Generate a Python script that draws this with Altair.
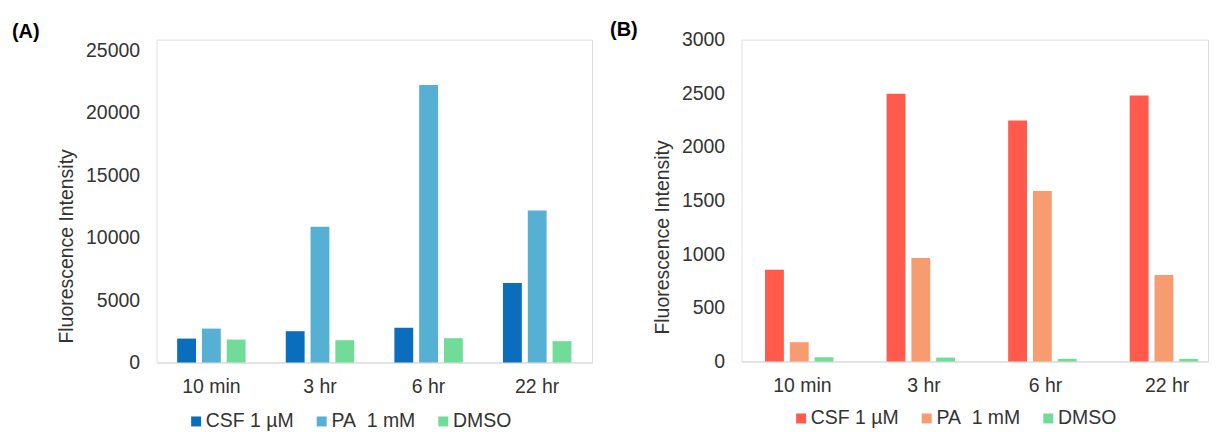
import altair as alt
import pandas as pd

times = ["10 min", "3 hr", "6 hr", "22 hr"]
series = ["CSF 1 µM", "PA\u00a0\u00a01 mM", "DMSO"]

a_csf = [1920, 2510, 2780, 6380]
a_pa = [2720, 10890, 22250, 12190]
a_dmso = [1840, 1790, 1950, 1710]

b_csf = [855, 2495, 2247, 2479]
b_pa = [180, 964, 1590, 806]
b_dmso = [40, 37, 25, 25]

colors_a = ["#0A6EBD", "#56B0D3", "#70DC98"]
colors_b = ["#FF5A4B", "#F79C70", "#70DC98"]

FONT = "Liberation Sans"
TXT = "#333333"


def long(csf, pa, dmso):
    rows = []
    for i, t in enumerate(times):
        for s, vals in zip(series, [csf, pa, dmso]):
            rows.append({"time": t, "treatment": s, "value": vals[i]})
    return pd.DataFrame(rows)


def panel(df, colors, title, title_dx, title_offset, width, height, ymax, ytop, ystep,
          pin, pout, palign, title_y, leg_x, leg_y):
    return alt.Chart(df, title=alt.TitleParams(
        text=title, anchor="start", frame="group", dx=title_dx, offset=title_offset,
        fontSize=20, fontWeight="bold", color="black", font=FONT)
    ).mark_bar().encode(
        x=alt.X("time:N", sort=times, title=None,
                scale=alt.Scale(paddingInner=pin, paddingOuter=pout, align=palign),
                axis=alt.Axis(labelAngle=0, ticks=False, labelPadding=15,
                              domainColor="#d9d9d9", labelFontSize=19.5,
                              labelColor=TXT, labelFont=FONT, grid=False)),
        xOffset=alt.XOffset("treatment:N", sort=series,
                            scale=alt.Scale(paddingInner=0.24, paddingOuter=0)),
        y=alt.Y("value:Q", title="Fluorescence Intensity",
                scale=alt.Scale(domain=[0, ytop], nice=False),
                axis=alt.Axis(values=list(range(0, ymax + 1, ystep)), format="d",
                              ticks=False, grid=False, domainColor="#f2f2f2",
                              labelPadding=17, labelFontSize=19.5, labelColor=TXT,
                              labelFont=FONT, titleFontSize=19.5, titleColor=TXT,
                              titleFont=FONT, titleFontWeight="normal", titlePadding=9,
                              titleY=title_y)),
        color=alt.Color("treatment:N", sort=series,
                        scale=alt.Scale(domain=series, range=colors),
                        legend=alt.Legend(title=None, orient="none", direction="horizontal",
                                          legendX=leg_x, legendY=leg_y,
                                          symbolType="square", symbolSize=100,
                                          symbolStrokeWidth=0, labelFontSize=19.5,
                                          labelColor=TXT, labelFont=FONT,
                                          labelOffset=0, columnPadding=18)),
    ).properties(width=width, height=height)


left = panel(long(a_csf, a_pa, a_dmso), colors_a, "(A)", -145, -2, 437, 324,
             25000, 25880, 5000, 0.37, 0.19, 0.5, 207, 30, 373)
right = panel(long(b_csf, b_pa, b_dmso), colors_b, "(B)", -132, -10, 468, 323,
              3000, 3000, 500, 0.385, 0.111, 0.87, 198, 50, 370)

chart = alt.hconcat(left, right, spacing=16).resolve_scale(color="independent").properties(
    padding={"left": 3, "top": 10, "right": 0, "bottom": 0}
).configure_view(stroke=None).configure(background="white")

chart.save("out.html", embed_options={"renderer": "svg", "actions": False})
